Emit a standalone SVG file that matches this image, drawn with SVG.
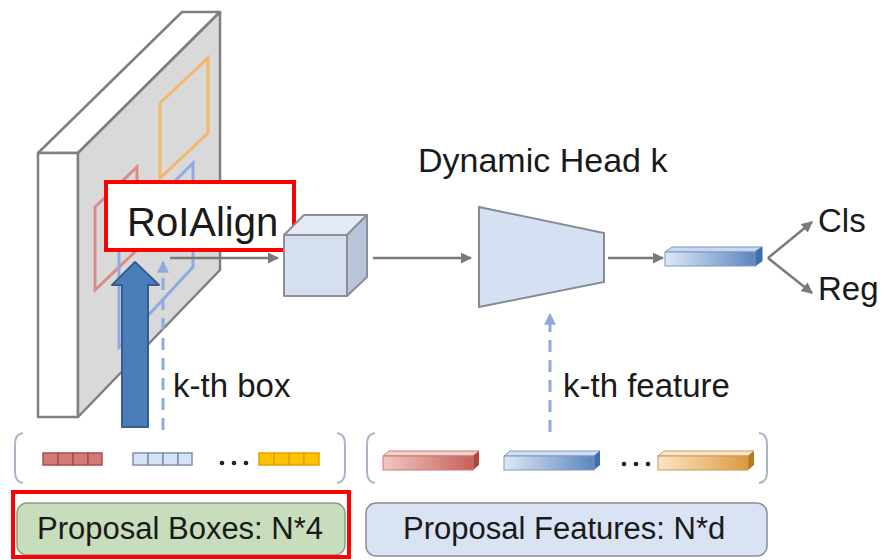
<svg xmlns="http://www.w3.org/2000/svg" width="887" height="560" viewBox="0 0 887 560">
<style>
.t{font-family:"Liberation Sans",Arial,sans-serif;fill:#1a1a1a}
.slab{stroke:#7f7f7f;stroke-width:2.5;stroke-linejoin:round}
.gl{stroke:#7a7a7a;stroke-width:2.5;fill:none}
.dash{stroke:#8fa9dc;stroke-width:3;stroke-dasharray:12 8;fill:none}
.br{stroke:#aab5cc;stroke-width:2;fill:none}
.cube{stroke:#8a8f99;stroke-width:2;stroke-linejoin:round}
.dot{fill:#222}
</style>
<defs>
<marker id="ag" viewBox="0 0 10 10" refX="9" refY="5" markerWidth="4.5" markerHeight="4.5" orient="auto"><path d="M0,0 L10,5 L0,10 z" fill="#7a7a7a"/></marker>
<marker id="ab" viewBox="0 0 10 10" refX="9" refY="5" markerWidth="4" markerHeight="4" orient="auto"><path d="M0,0 L10,5 L0,10 z" fill="#8fa9dc"/></marker>
<linearGradient id="gb" x1="0" x2="1"><stop offset="0" stop-color="#dfe8f5"/><stop offset="1" stop-color="#5b86c0"/></linearGradient>
<linearGradient id="gr" x1="0" x2="1"><stop offset="0" stop-color="#f2c7c3"/><stop offset="1" stop-color="#c8605a"/></linearGradient>
<linearGradient id="go" x1="0" x2="1"><stop offset="0" stop-color="#fbe6c8"/><stop offset="1" stop-color="#dc9a3e"/></linearGradient>
</defs>

<g id="feature-map">
<polygon class="slab" points="38,153 78,153 220,12 182,12" fill="#ffffff"/>
<rect class="slab" x="38" y="153" width="40" height="264" fill="#ffffff"/>
<polygon class="slab" points="78,153 220,12 220,270 78,417" fill="#d9d9d9"/>
<polygon points="160,103 208,58 208,133 160,178" fill="none" stroke="#f0b868" stroke-width="3"/>
<polygon points="95,207 137,167 137,250 95,290" fill="none" stroke="#dc8c88" stroke-width="3"/>
<polygon points="119,237 193,163 193,267 119,347" fill="none" stroke="#8eaae0" stroke-width="3"/>
</g>

<g id="connectors">
<line class="gl" x1="170" y1="258" x2="278" y2="258" marker-end="url(#ag)"/>
<line class="gl" x1="373" y1="258" x2="471" y2="258" marker-end="url(#ag)"/>
<line class="gl" x1="608" y1="258" x2="663" y2="258" marker-end="url(#ag)"/>
<line class="gl" x1="768" y1="258" x2="812" y2="222" marker-end="url(#ag)"/>
<line class="gl" x1="768" y1="258" x2="812" y2="293" marker-end="url(#ag)"/>
<line class="dash" x1="163" y1="430" x2="163" y2="262" marker-end="url(#ab)"/>
<line class="dash" x1="550" y1="432" x2="550" y2="314" marker-end="url(#ab)"/>
</g>

<g id="roialign">
<rect x="106" y="182" width="188" height="68" fill="#ffffff" stroke="#ff0000" stroke-width="4"/>
<text class="t" x="127" y="236" font-size="40" fill="#000">RoIAlign</text>
</g>

<g id="big-arrow">
<polygon points="122,427 148,427 148,285 159,285 135,262 112,285 122,285" fill="#4a7ebb" stroke="#385d8a" stroke-width="2" stroke-linejoin="round"/>
</g>

<g id="cube">
<polygon class="cube" points="284,235 304,215 367,215 347,235" fill="#e3e9f5"/>
<polygon class="cube" points="347,235 367,215 367,277 347,296" fill="#b9c4dc"/>
<rect class="cube" x="284" y="235" width="63" height="61" fill="#d5dff0"/>
</g>

<g id="dynamic-head">
<polygon points="479,207 604,233 604,282 479,307" fill="#d5e0f3" stroke="#858b96" stroke-width="2"/>
<text class="t" x="418" y="172" font-size="34">Dynamic Head k</text>
</g>

<g id="head-bar">
<polygon points="665,252 672,247 762,247 755,252" fill="#c9d8ee" stroke="#7d98c4" stroke-width="1"/>
<polygon points="755,252 762,247 762,261 755,266" fill="#3f6fae" stroke="#3f6fae" stroke-width="1"/>
<rect x="665" y="252" width="90" height="14" fill="url(#gb)" stroke="#7d98c4" stroke-width="1"/>
</g>

<g id="cls"><text class="t" x="818" y="232" font-size="33">Cls</text></g>
<g id="reg"><text class="t" x="818" y="300" font-size="33">Reg</text></g>

<g id="k-th-box"><text class="t" x="173" y="397" font-size="33">k-th box</text></g>
<g id="k-th-feature"><text class="t" x="563" y="397" font-size="33">k-th feature</text></g>

<g id="proposal-boxes-list">
<path class="br" d="M23,433 Q15,434 15,444 L15,472 Q15,482 23,483"/>
<path class="br" d="M337,433 Q345,434 345,444 L345,472 Q345,482 337,483"/>
<g stroke="#b04a4a" stroke-width="1.5" fill="#d27a7a">
<rect x="43" y="453" width="15" height="12"/><rect x="58" y="453" width="15" height="12"/><rect x="73" y="453" width="15" height="12"/><rect x="88" y="453" width="14" height="12"/>
</g>
<g stroke="#7f90b0" stroke-width="1.5" fill="#d6e2f5">
<rect x="133" y="453" width="15" height="12"/><rect x="148" y="453" width="15" height="12"/><rect x="163" y="453" width="15" height="12"/><rect x="178" y="453" width="14" height="12"/>
</g>
<circle class="dot" cx="222" cy="463" r="2.3"/><circle class="dot" cx="234" cy="463" r="2.3"/><circle class="dot" cx="246" cy="463" r="2.3"/>
<g stroke="#e2a200" stroke-width="1.5" fill="#ffc000">
<rect x="259" y="453" width="15" height="12"/><rect x="274" y="453" width="15" height="12"/><rect x="289" y="453" width="15" height="12"/><rect x="304" y="453" width="15" height="12"/>
</g>
</g>

<g id="proposal-features-list">
<path class="br" d="M375,433 Q367,434 367,444 L367,472 Q367,482 375,483"/>
<path class="br" d="M759,433 Q767,434 767,444 L767,472 Q767,482 759,483"/>
<polygon points="383,456 389,451 479,451 473,456" fill="#f3d2ce" stroke="#c87a74" stroke-width="1"/>
<polygon points="473,456 479,451 479,465 473,470" fill="#b5433e"/>
<rect x="383" y="456" width="90" height="14" fill="url(#gr)" stroke="#c87a74" stroke-width="1"/>
<polygon points="504,456 510,451 600,451 594,456" fill="#d2dff2" stroke="#7d98c4" stroke-width="1"/>
<polygon points="594,456 600,451 600,465 594,470" fill="#3f6fae"/>
<rect x="504" y="456" width="90" height="14" fill="url(#gb)" stroke="#7d98c4" stroke-width="1"/>
<circle class="dot" cx="624" cy="464" r="2.3"/><circle class="dot" cx="636" cy="464" r="2.3"/><circle class="dot" cx="648" cy="464" r="2.3"/>
<polygon points="658,456 664,451 754,451 748,456" fill="#fbe7cc" stroke="#c89a5a" stroke-width="1"/>
<polygon points="748,456 754,451 754,465 748,470" fill="#b77a20"/>
<rect x="658" y="456" width="90" height="14" fill="url(#go)" stroke="#c89a5a" stroke-width="1"/>
</g>

<g id="proposal-boxes">
<rect x="17" y="503" width="328" height="52" rx="10" fill="#c8ddbb" stroke="#8e9c86" stroke-width="1.5"/>
<rect x="13" y="492" width="336" height="65" fill="none" stroke="#ff0000" stroke-width="4"/>
<text class="t" x="37" y="539" font-size="31">Proposal Boxes: N*4</text>
</g>

<g id="proposal-features">
<rect x="366" y="503" width="401" height="53" rx="10" fill="#dae3f3" stroke="#858c99" stroke-width="1.5"/>
<text class="t" x="403" y="539" font-size="31">Proposal Features: N*d</text>
</g>
</svg>
